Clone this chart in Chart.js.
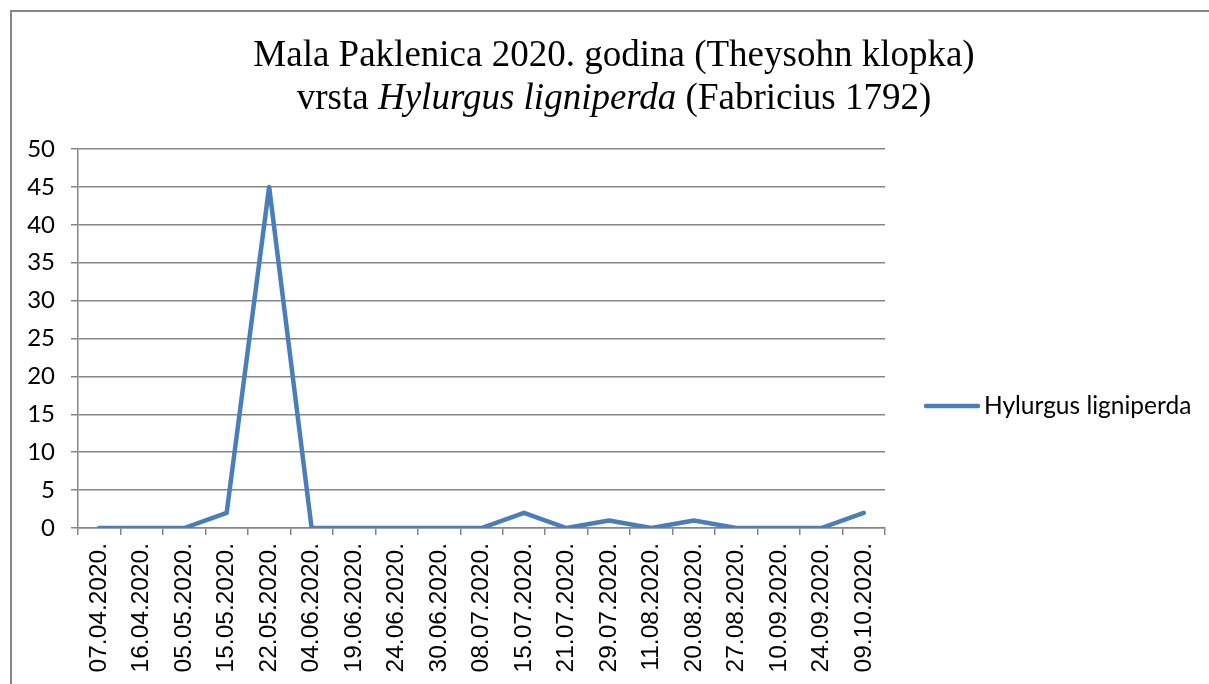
<!DOCTYPE html>
<html>
<head>
<meta charset="utf-8">
<script src="https://cdn.jsdelivr.net/npm/chart.js@4.4.0/dist/chart.umd.min.js"></script>
<style>
  html, body { margin: 0; padding: 0; background: #fff; }
  #wrap { width: 1209px; height: 684px; position: relative; }
</style>
</head>
<body>
<div id="wrap"><canvas id="grafikon"></canvas></div>
<script>
// datumi uzorkovanja
const datumi = ['07.04.2020.', '16.04.2020.', '05.05.2020.', '15.05.2020.', '22.05.2020.',
    '04.06.2020.', '19.06.2020.', '24.06.2020.', '30.06.2020.', '08.07.2020.',
    '15.07.2020.', '21.07.2020.', '29.07.2020.', '11.08.2020.', '20.08.2020.',
    '27.08.2020.', '10.09.2020.', '24.09.2020.', '09.10.2020.'];
// broj jedinki po datumu
const hylurgus = [0, 0, 0, 2, 45, 0, 0, 0, 0, 0, 2, 0, 1, 0, 1, 0, 0, 0, 2];
const nazivSerije = 'Hylurgus ligniperda';
const yMin = 0, yMax = 50, yKorak = 5;

const boja = '#4a7ebb';
const siva = '#868686';

// okvir, naslov i legenda
const ukrasi = {
    id: 'ukrasi',
    afterDraw(chart) {
        const c = chart.ctx;
        c.save();
        c.strokeStyle = siva;
        c.lineWidth = 2;
        c.strokeRect(11, 11, 1300, 800);

        c.fillStyle = '#000';
        c.textBaseline = 'alphabetic';
        c.textAlign = 'left';
        const sred = 614;
        c.font = '37px "Liberation Serif"';
        let t1 = 'Mala Paklenica 2020. godina (Theysohn klopka)';
        c.fillText(t1, sred - c.measureText(t1).width / 2, 66);

        const dijelovi = [
            ['vrsta ', '37px "Liberation Serif"'],
            ['Hylurgus ligniperda', 'italic 37px "Liberation Serif"'],
            [' (Fabricius 1792)', '37px "Liberation Serif"']
        ];
        let ukupno = 0;
        dijelovi.forEach(d => { c.font = d[1]; ukupno += c.measureText(d[0]).width; });
        let x = sred - ukupno / 2;
        dijelovi.forEach(d => {
            c.font = d[1];
            c.fillText(d[0], x, 109);
            x += c.measureText(d[0]).width;
        });

        // legenda
        c.strokeStyle = boja;
        c.lineWidth = 4.5;
        c.lineCap = 'round';
        c.beginPath();
        c.moveTo(926, 406);
        c.lineTo(978, 406);
        c.stroke();
        c.font = '24.5px Lato';
        c.textBaseline = 'middle';
        c.fillText(nazivSerije, 984, 406);
        c.restore();
    }
};

const ctx = document.getElementById('grafikon').getContext('2d');
const grafikon = new Chart(ctx, {
    type: 'line',
    data: {
        labels: datumi,
        datasets: [{
            label: nazivSerije,
            data: hylurgus,
            borderColor: boja,
            borderWidth: 4.5,
            pointRadius: 0,
            tension: 0,
            borderCapStyle: 'round',
            borderJoinStyle: 'round'
        }]
    },
    options: {
        responsive: true,
        maintainAspectRatio: false,
        animation: false,
        layout: { padding: { left: 0, top: 149, right: 324, bottom: 0 } },
        plugins: {
            legend: { display: false },
            title: { display: false },
            tooltip: { enabled: false }
        },
        scales: {
            x: {
                offset: true,
                afterFit(s) { s.height = 156; },
                grid: {
                    offset: true,
                    drawOnChartArea: false,
                    drawTicks: true,
                    tickLength: 7,
                    color: siva,
                    lineWidth: 1.5
                },
                border: { color: siva, width: 1.5 },
                ticks: {
                    autoSkip: false,
                    maxRotation: 90,
                    minRotation: 90,
                    padding: 8,
                    color: '#000',
                    font: { family: '"Liberation Sans"', size: 24.5 }
                }
            },
            y: {
                min: yMin,
                max: yMax,
                afterFit(s) { s.width = 78; },
                grid: {
                    color: siva,
                    lineWidth: 1.5,
                    drawTicks: true,
                    tickLength: 7
                },
                border: { color: siva, width: 1.5 },
                ticks: {
                    stepSize: yKorak,
                    padding: 16,
                    color: '#000',
                    font: { family: 'Lato', size: 24 }
                }
            }
        }
    },
    plugins: [ukrasi]
});
</script>
</body>
</html>
